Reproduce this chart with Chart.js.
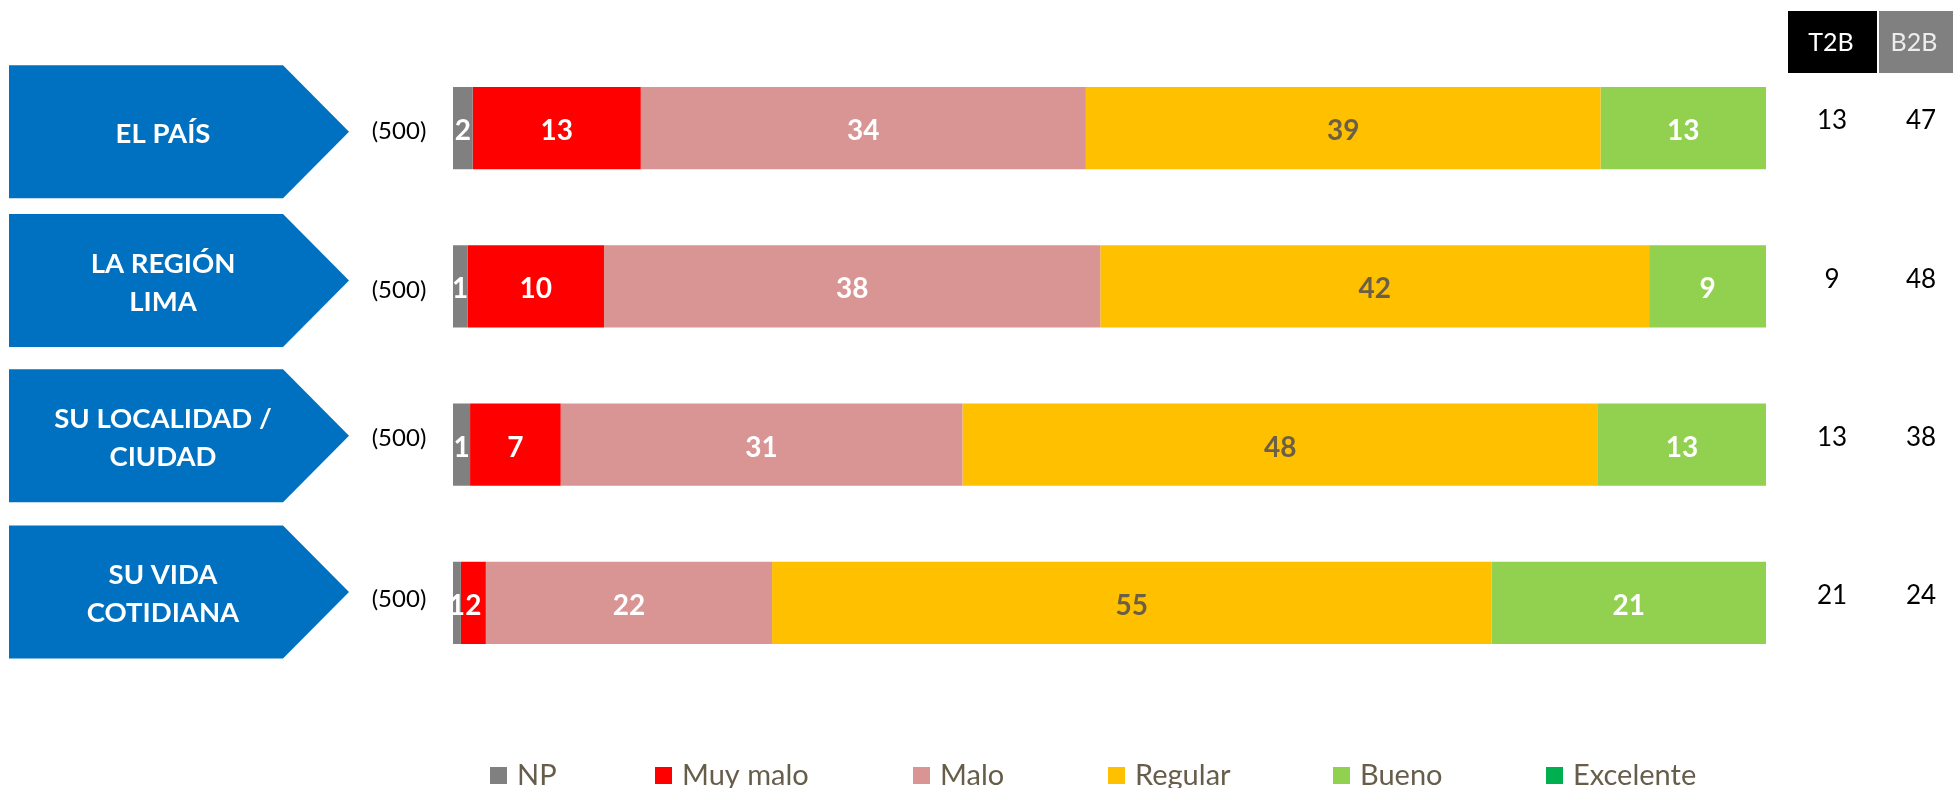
<!DOCTYPE html>
<html><head><meta charset="utf-8">
<script src="https://cdn.jsdelivr.net/npm/chart.js@4.4.0/dist/chart.umd.min.js"></script>
<style>html,body{margin:0;padding:0;background:#fff;overflow:hidden}#wrap{width:1953px;height:788px;position:relative}</style>
</head><body><div id="wrap"><canvas id="c" width="1953" height="788"></canvas></div>
<script>
// ---- data ----
const categories = [['EL PAÍS'], ['LA REGIÓN', 'LIMA'], ['SU LOCALIDAD /', 'CIUDAD'], ['SU VIDA', 'COTIDIANA']];
const bases = ['(500)', '(500)', '(500)', '(500)'];
const seriesNames = ['NP', 'Muy malo', 'Malo', 'Regular', 'Bueno', 'Excelente'];
const npVals = [1.5, 1.1, 1.3, 0.6];
const muyMaloVals = [12.8, 10.4, 6.9, 1.9];
const maloVals = [33.9, 37.8, 30.6, 21.8];
const regularVals = [39.2, 41.8, 48.4, 54.8];
const buenoVals = [12.6, 8.9, 12.8, 20.9];
const excelenteVals = [0, 0, 0, 0];
const summaryHeaders = ['T2B', 'B2B'];
const t2bVals = [13, 9, 13, 21];
const b2bVals = [47, 48, 38, 24];

// ---- styles / layout ----
const FONT = 'Lato, "Open Sans", sans-serif';
const colors = ['#808080', '#FF0000', '#D99594', '#FFC000', '#92D050', '#00B050'];
const labelColors = ['#ffffff', '#ffffff', '#ffffff', '#6b5f47', '#ffffff', '#ffffff'];
const seriesData = [npVals, muyMaloVals, maloVals, regularVals, buenoVals, excelenteVals];
const ARROW_DY = [3.5, -6, -9, -11];
const BASE_DY = [2, 3, -7, -5];
const LEGEND_X = [490, 655, 913, 1108, 1333, 1546];

Chart.defaults.font.family = FONT;

function capText(ctx, txt, x, capCenterY, size, weight, color, align) {
  ctx.font = (weight ? weight + ' ' : '') + size + 'px ' + FONT;
  ctx.fillStyle = color;
  ctx.textAlign = align || 'center';
  ctx.textBaseline = 'alphabetic';
  ctx.fillText(txt, x, capCenterY + size * 0.36);
}

const decor = {
  id: 'decor',
  afterDatasetsDraw(chart) {
    const ctx = chart.ctx;
    const ys = chart.scales.y;
    ctx.save();
    // data labels
    chart.data.datasets.forEach((ds, di) => {
      const meta = chart.getDatasetMeta(di);
      meta.data.forEach((el, i) => {
        const v = ds.data[i];
        if (Math.round(v) < 1) return;
        const p = el.getProps(['x', 'y', 'base'], true);
        capText(ctx, String(Math.round(v)), (p.x + p.base) / 2, p.y + 2, 28, 'bold', labelColors[di]);
      });
    });
    // arrows, category text, bases, summaries
    chart.data.labels.forEach((lab, i) => {
      const yb = ys.getPixelForValue(i);
      const yc = yb + ARROW_DY[i];
      const top = yc - 66.5, bot = yc + 66.5;
      ctx.fillStyle = '#0070C0';
      ctx.beginPath();
      ctx.moveTo(9, top); ctx.lineTo(283, top); ctx.lineTo(349, yc);
      ctx.lineTo(283, bot); ctx.lineTo(9, bot); ctx.closePath(); ctx.fill();
      const lh = 38;
      const start = yc + 1.5 - (lab.length - 1) * lh / 2;
      lab.forEach((t, k) => capText(ctx, t, 163, start + k * lh, 27.5, 'bold', '#ffffff'));
      capText(ctx, bases[i], 399, yb + BASE_DY[i], 24, '', '#000000');
      capText(ctx, String(t2bVals[i]), 1832, yb - 8, 26, '', '#000000');
      capText(ctx, String(b2bVals[i]), 1921, yb - 8, 26, '', '#000000');
    });
    // summary headers
    ctx.fillStyle = '#000000';
    ctx.fillRect(1788, 11, 89, 62);
    ctx.fillStyle = '#808080';
    ctx.fillRect(1879, 11, 74, 62);
    capText(ctx, summaryHeaders[0], 1831, 42, 25, '', '#ffffff');
    capText(ctx, summaryHeaders[1], 1914, 42, 25, '', '#ececec');
    // legend
    chart.data.datasets.forEach((ds, di) => {
      const x = LEGEND_X[di];
      ctx.fillStyle = ds.backgroundColor;
      ctx.fillRect(x, 767, 17, 17);
      capText(ctx, ds.label, x + 27, 775, 29, '', '#675d4b', 'left');
    });
    ctx.restore();
  }
};

new Chart(document.getElementById('c'), {
  type: 'bar',
  data: {
    labels: categories,
    datasets: seriesNames.map((n, i) => ({
      label: n,
      data: seriesData[i],
      backgroundColor: colors[i],
      borderWidth: 0,
      barPercentage: 0.52,
      categoryPercentage: 1
    }))
  },
  options: {
    indexAxis: 'y',
    responsive: false,
    animation: false,
    devicePixelRatio: 1,
    layout: { padding: { left: 453, right: 187, top: 49, bottom: 106 } },
    scales: {
      x: { stacked: true, min: 0, max: 100, display: false },
      y: { stacked: true, display: false }
    },
    plugins: { legend: { display: false }, tooltip: { enabled: false } }
  },
  plugins: [decor]
});
</script>
</body></html>
